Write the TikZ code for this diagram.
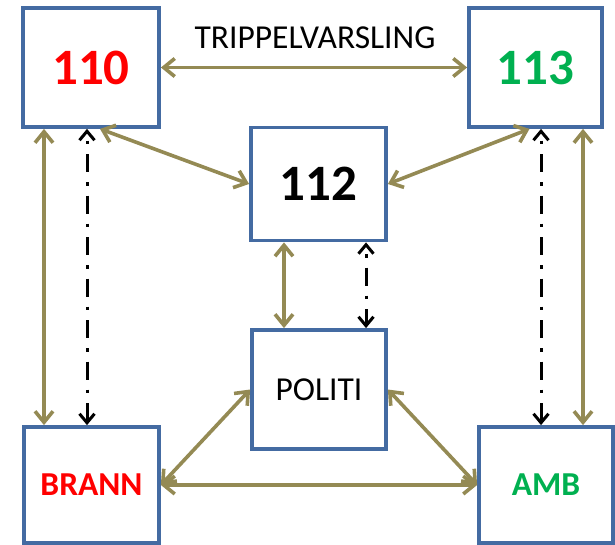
\documentclass[tikz,border=0pt]{standalone}
\usepackage{fontspec}
\setmainfont{Carlito}
\usetikzlibrary{arrows.meta}
\definecolor{boxblue}{RGB}{68,107,162}
\definecolor{linkolive}{RGB}{148,138,84}
\definecolor{alarmred}{RGB}{255,0,0}
\definecolor{ambgreen}{RGB}{0,176,80}
\newcommand{\bignum}{\fontsize{51}{53}\selectfont\bfseries}
\newcommand{\midtext}{\fontsize{33.5}{35}\selectfont}

\begin{document}
\begin{tikzpicture}[x=1pt,y=-1pt,
    box/.style={draw=boxblue,line width=3.8pt,fill=white,inner sep=0pt,
        minimum width=135pt,minimum height=119pt},
    link/.style={draw=linkolive,line width=3.6pt,
        {Straight Barb[length=11pt,width=18pt]}-{Straight Barb[length=11pt,width=18pt]}},
    hint/.style={draw=black,line width=3pt,
        dash pattern=on 3.5pt off 10pt on 18pt off 10pt,dash phase=-8pt,
        {Straight Barb[length=9pt,width=15pt]}-{Straight Barb[length=9pt,width=15pt]}}]
    \useasboundingbox (0,0) rectangle (615,545);

    % boxes
    \node[box,minimum width=136pt,text=alarmred,font=\bignum] (n110) at (91,67.5) {110};
    \node[box,minimum width=133pt,text=ambgreen,font=\bignum] (n113) at (535.5,67.5) {113};
    \node[box,minimum height=113pt,font=\bignum] (n112) at (318.5,184) {112};
    \node[box,minimum width=134pt,font=\midtext] (politi) at (319,389.5) {POLITI};
    \node[box,minimum height=116pt,text=alarmred,font=\midtext\bfseries] (brann) at (91.5,485) {BRANN};
    \node[box,minimum width=134pt,minimum height=116pt,text=ambgreen,font=\midtext\bfseries] (amb) at (546,485) {AMB};

    \node[font=\midtext] (trippel) at (315,37.5) {TRIPPELVARSLING};

    % links
    \draw[link] (n110.east) -- (n113.west);
    \draw[link] ([xshift=9pt]n110.south) -- (n112.west);
    \draw[link] ([xshift=-6pt]n113.south) -- (n112.east);
    \draw[link] ([xshift=-47pt]n110.south) -- ([xshift=-47.5pt]brann.north);
    \draw[link] ([xshift=47.5pt]n113.south) -- ([xshift=37pt]amb.north);
    \draw[link] ([xshift=-34.5pt]n112.south) -- ([xshift=-35pt]politi.north);
    \draw[link] (politi.west) -- (brann.east);
    \draw[link] (politi.east) -- (amb.west);
    \draw[link] (brann.east) -- (amb.west);

    \draw[hint] ([xshift=-4pt]n110.south) -- ([xshift=-4.5pt]brann.north);
    \draw[hint] ([xshift=5.5pt]n113.south) -- ([xshift=-5pt]amb.north);
    \draw[hint] ([xshift=47.5pt]n112.south) -- ([xshift=47pt]politi.north);
\end{tikzpicture}
\end{document}
